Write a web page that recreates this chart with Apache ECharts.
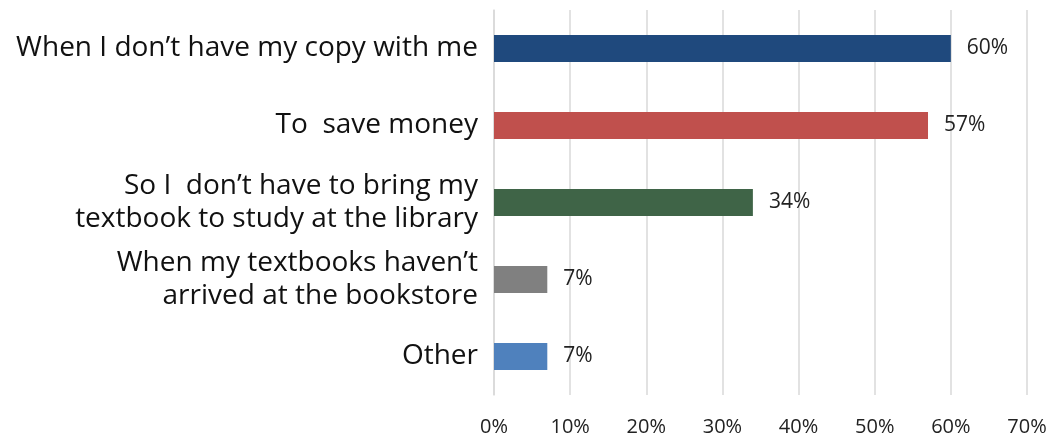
<!DOCTYPE html>
<html><head><meta charset="utf-8">
<script src="https://cdn.jsdelivr.net/npm/echarts@6/dist/echarts.min.js"></script>
<style>html,body{margin:0;padding:0;background:#fff}#c{width:1052px;height:437px}</style>
</head><body><div id="c"></div>
<script>
const categories = [
  "When I don\u2019t have my copy with me",
  "To  save money",
  "So I  don\u2019t have to bring my\ntextbook to study at the library",
  "When my textbooks haven\u2019t\narrived at the bookstore",
  "Other"
];
const values = [60, 57, 34, 7, 7];
const colors = ["#1F497D", "#C0504D", "#3F6447", "#808080", "#4F81BD"];
const xTicks = [0, 10, 20, 30, 40, 50, 60, 70];

const chart = echarts.init(document.getElementById('c'), null, {renderer: 'canvas'});
chart.setOption({
  animation: false,
  grid: {left: 494, right: 25, top: 10, bottom: 42},
  xAxis: {
    type: 'value', min: xTicks[0], max: xTicks[xTicks.length - 1], interval: 10,
    axisLine: {show: false}, axisTick: {show: false},
    splitLine: {lineStyle: {color: '#D9D9D9', width: 1.5}},
    axisLabel: {formatter: v => v + '%', color: '#222', fontSize: 20, fontFamily: 'Open Sans', margin: 22}
  },
  yAxis: {
    type: 'category', data: categories, inverse: true,
    axisLine: {show: true, lineStyle: {color: '#D9D9D9', width: 1.5}},
    axisTick: {show: false},
    axisLabel: {color: '#111', fontSize: 28, fontFamily: 'Open Sans', lineHeight: 33, margin: 16, align: 'right'}
  },
  series: [{
    type: 'bar', barWidth: 27,
    data: values.map((v, i) => ({value: v, itemStyle: {color: colors[i]}})),
    label: {show: true, position: 'right', distance: 16, formatter: p => p.value + '%', color: '#222', fontSize: 21, fontFamily: 'Open Sans'}
  }]
});
</script></body></html>
